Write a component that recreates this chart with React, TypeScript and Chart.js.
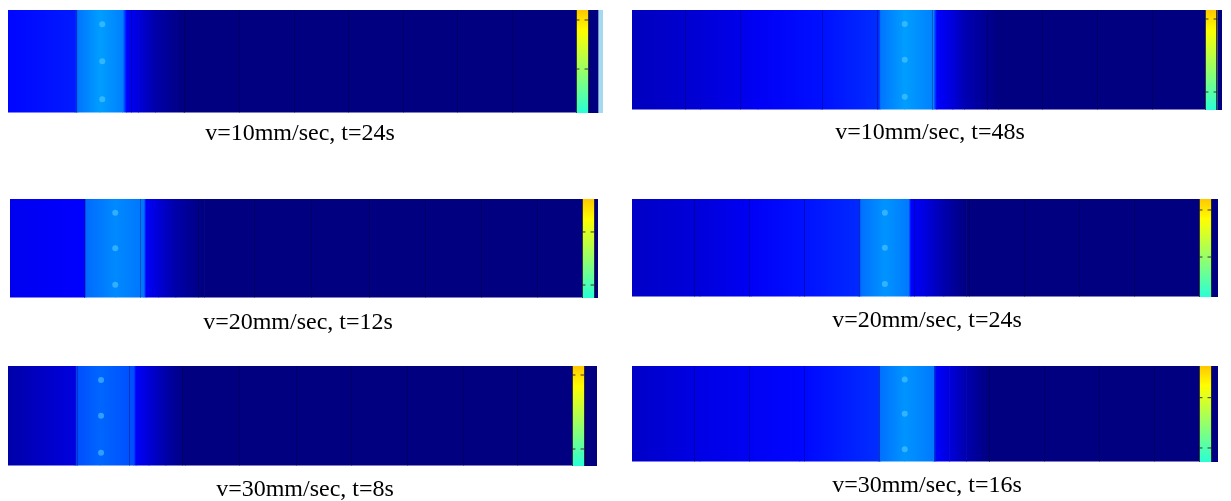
import React, { useEffect, useRef } from "react";
import { Chart, registerables } from "chart.js";
Chart.register(...registerables);

// ---------- data ----------
const panelTitles = [
  "v=10mm/sec, t=24s",
  "v=10mm/sec, t=48s",
  "v=20mm/sec, t=12s",
  "v=20mm/sec, t=24s",
  "v=30mm/sec, t=8s",
  "v=30mm/sec, t=16s",
];

// Position along plate (% of length) and colormap level (jet fraction)
const p1X = [0, 11.8, 12.3, 16.2, 20.2, 20.9, 23, 26, 31, 100];
const p1V = [0.13, 0.15, 0.24, 0.28, 0.25, 0.125, 0.09, 0.04, 0.0, 0.0];
const p2X = [0, 12, 22, 33, 43.1, 43.4, 47.6, 52.6, 53.2, 56, 58, 64, 100];
const p2V = [0.06, 0.085, 0.115, 0.14, 0.17, 0.24, 0.28, 0.25, 0.125, 0.09, 0.05, 0, 0];
const p3X = [0, 13, 13.3, 18.4, 23.4, 23.8, 26, 29, 34, 100];
const p3V = [0.11, 0.125, 0.23, 0.26, 0.24, 0.12, 0.085, 0.04, 0, 0];
const p4X = [0, 12, 21, 29.6, 40, 40.4, 44.6, 48.8, 49.2, 52, 55, 59, 100];
const p4V = [0.07, 0.09, 0.115, 0.14, 0.165, 0.235, 0.27, 0.245, 0.125, 0.09, 0.045, 0, 0];
const p5X = [0, 11.9, 12.2, 16.3, 22.3, 22.7, 25, 28, 31.5, 100];
const p5V = [0.04, 0.095, 0.2, 0.225, 0.2, 0.12, 0.085, 0.04, 0, 0];
const p6X = [0, 12, 29.6, 43.5, 43.8, 48.1, 53.2, 53.6, 56, 59, 63, 100];
const p6V = [0.07, 0.1, 0.13, 0.17, 0.235, 0.27, 0.245, 0.125, 0.09, 0.045, 0, 0];

const mesh1 = [12.1, 21.7, 31.0, 40.7, 50.4, 60.0, 69.7, 79.2, 88.9];
const mesh2 = [9.4, 19.0, 33.3, 42.9, 52.5, 62.1, 71.7, 81.3, 90.9];
const mesh3 = [13.1, 22.9, 32.9, 42.7, 52.7, 62.9, 72.7, 82.4, 92.3];
const mesh4 = [11.1, 20.8, 30.5, 40.2, 49.9, 59.6, 69.3, 79.0, 88.7];
const mesh5 = [12.4, 21.6, 31.0, 41.1, 51.2, 60.9, 70.9, 80.7, 90.4];
const mesh6 = [11.1, 20.8, 30.5, 43.7, 53.4, 63.1, 72.8, 82.5, 92.2];

const sourceX = [16.6, 47.6, 18.4, 44.6, 16.5, 48.1];
const dotLevels = [0.86, 0.5, 0.13];

const cbRange = [0.415, 0.68];
const cbTicks1 = [0.903, 0.427];
const cbTicks2 = [0.91, 0.18];
const cbTicks3 = [0.667, 0.131];
const cbTicks4 = [0.888, 0.408];
const cbTicks5 = [0.91, 0.17];
const cbTicks6 = [0.67, 0.146];

const profilesX = [p1X, p2X, p3X, p4X, p5X, p6X];
const profilesV = [p1V, p2V, p3V, p4V, p5V, p6V];
const meshes = [mesh1, mesh2, mesh3, mesh4, mesh5, mesh6];
const cbTicks = [cbTicks1, cbTicks2, cbTicks3, cbTicks4, cbTicks5, cbTicks6];

// ---------- layout (pixels) ----------
const layouts = [
  { left: 8, top: 10, bottom: 113, heatRight: 576, titleCx: 300, titleCy: 134, cbRight: 588, navyRight: 598, lightRight: 603 },
  { left: 632, top: 10, bottom: 110, heatRight: 1205, titleCx: 930, titleCy: 133, cbRight: 1217, navyRight: 1222, lightRight: 0 },
  { left: 10, top: 199, bottom: 298, heatRight: 582, titleCx: 298, titleCy: 323, cbRight: 594, navyRight: 598, lightRight: 0 },
  { left: 632, top: 199, bottom: 297, heatRight: 1199, titleCx: 927, titleCy: 321, cbRight: 1211, navyRight: 1218, lightRight: 0 },
  { left: 8, top: 366, bottom: 466, heatRight: 572, titleCx: 305, titleCy: 490, cbRight: 584, navyRight: 597, lightRight: 0 },
  { left: 632, top: 366, bottom: 462, heatRight: 1199, titleCx: 927, titleCy: 486, cbRight: 1211, navyRight: 1218, lightRight: 0 },
];

function jet(v: number): string {
  const c = (x: number) => Math.max(0, Math.min(1, x));
  const r = c(1.5 - Math.abs(4 * v - 3));
  const g = c(1.5 - Math.abs(4 * v - 2));
  const b = c(1.5 - Math.abs(4 * v - 1));
  return `rgb(${Math.round(r * 255)},${Math.round(g * 255)},${Math.round(b * 255)})`;
}

const TITLE_SIZE = 24;
const LINE_H = 1.2;

function Panel({ idx }: { idx: number }) {
  const heatRef = useRef<HTMLCanvasElement>(null);
  const cbRef = useRef<HTMLCanvasElement>(null);
  const L = layouts[idx];
  const H = L.bottom - L.top;
  const chartW = Math.round(2 * (L.titleCx - L.left));
  const padTop = L.titleCy - L.bottom - (TITLE_SIZE * LINE_H) / 2;
  const heatH = Math.round(H + padTop + TITLE_SIZE * LINE_H);
  const cbEnd = L.lightRight || L.navyRight;
  const cbW = cbEnd - L.heatRight;

  useEffect(() => {
    const xs = profilesX[idx];
    const vs = profilesV[idx];
    const heatW = L.heatRight - L.left;
    const xMax = (100 * chartW) / heatW;

    const segs: any[] = xs.slice(0, -1).map((x0, i) => {
      const x1 = xs[i + 1];
      const v0 = vs[i];
      const v1 = vs[i + 1];
      return {
        type: "bar",
        data: [[x0, x1]],
        grouped: false,
        barPercentage: 1,
        categoryPercentage: 1,
        borderWidth: 0,
        order: 2,
        backgroundColor: (ctx: any) => {
          const chart = ctx.chart;
          const sx = chart.scales.x;
          if (!chart.chartArea || !sx) return jet((v0 + v1) / 2);
          const a = sx.getPixelForValue(x0);
          const b = sx.getPixelForValue(x1);
          const g = chart.ctx.createLinearGradient(a, 0, b, 0);
          g.addColorStop(0, jet(v0));
          g.addColorStop(1, jet(v1));
          return g;
        },
      };
    });
    segs.push({
      type: "scatter",
      yAxisID: "yd",
      order: 1,
      data: dotLevels.map((d) => ({ x: sourceX[idx], y: d })),
      pointRadius: 3,
      pointBackgroundColor: "rgba(90,205,255,0.55)",
      pointBorderWidth: 0,
    });

    const heat = new Chart(heatRef.current!, {
      type: "bar",
      data: { labels: ["plate"], datasets: segs },
      options: {
        indexAxis: "y",
        responsive: false,
        animation: false,
        events: [],
        layout: { padding: 0, autoPadding: false },
        scales: {
          x: {
            type: "linear",
            min: 0,
            max: xMax,
            offset: false,
            display: true,
            afterBuildTicks: (s: any) => {
              s.ticks = meshes[idx].map((v) => ({ value: v }));
            },
            ticks: { display: false },
            border: { display: false },
            grid: { drawTicks: false, offset: false, color: "rgba(0,0,40,0.3)", lineWidth: 1, z: 1 },
          },
          y: { type: "category", offset: true, display: false },
          yd: { type: "linear", min: 0, max: 1, offset: false, display: false },
        },
        plugins: {
          legend: { display: false },
          tooltip: { enabled: false },
          title: {
            display: true,
            text: panelTitles[idx],
            position: "bottom",
            color: "#000",
            font: { family: "'Liberation Serif', 'Times New Roman', serif", size: TITLE_SIZE, weight: "normal", lineHeight: LINE_H },
            padding: { top: padTop, bottom: 0 },
          },
        },
      } as any,
    });

    const cbXMax = cbW / (L.cbRight - L.heatRight);
    const navyEnd = (L.navyRight - L.heatRight) / (L.cbRight - L.heatRight);
    const cbSets: any[] = [
      {
        type: "bar",
        data: [[0, 1]],
        grouped: false,
        barPercentage: 1,
        categoryPercentage: 1,
        borderWidth: 0,
        order: 2,
        backgroundColor: (ctx: any) => {
          const chart = ctx.chart;
          const area = chart.chartArea;
          if (!area) return jet(cbRange[0]);
          const g = chart.ctx.createLinearGradient(0, area.bottom, 0, area.top);
          for (let k = 0; k <= 10; k++) {
            g.addColorStop(k / 10, jet(cbRange[0] + ((cbRange[1] - cbRange[0]) * k) / 10));
          }
          return g;
        },
      },
      {
        type: "bar",
        data: [[1, navyEnd]],
        grouped: false,
        barPercentage: 1,
        categoryPercentage: 1,
        borderWidth: 0,
        order: 2,
        backgroundColor: jet(0),
      },
    ];
    if (L.lightRight) {
      cbSets.push({
        type: "bar",
        data: [[navyEnd, cbXMax]],
        grouped: false,
        barPercentage: 1,
        categoryPercentage: 1,
        borderWidth: 0,
        order: 2,
        backgroundColor: "#a6d8f0",
      });
    }
    const tk = cbTicks[idx];
    cbSets.push({
      type: "scatter",
      yAxisID: "yt",
      order: 1,
      data: tk.flatMap((t) => [
        { x: 0.12, y: t },
        { x: 0.88, y: t },
      ]),
      pointStyle: "line",
      pointRadius: 2,
      pointBorderColor: "#333",
      pointBorderWidth: 1,
    });

    const cb = new Chart(cbRef.current!, {
      type: "bar",
      data: { labels: ["cb"], datasets: cbSets },
      options: {
        indexAxis: "y",
        responsive: false,
        animation: false,
        events: [],
        layout: { padding: 0, autoPadding: false },
        scales: {
          x: {
            type: "linear",
            min: 0,
            max: cbXMax,
            offset: false,
            display: true,
            afterBuildTicks: (s: any) => {
              s.ticks = [{ value: 0 }, { value: 1 }];
            },
            ticks: { display: false },
            border: { display: false },
            grid: { drawTicks: false, offset: false, color: "rgba(40,40,40,0.9)", lineWidth: 1, z: 1 },
          },
          y: { type: "category", offset: true, display: false },
          yt: { type: "linear", min: 0, max: 1, offset: false, display: false },
        },
        plugins: { legend: { display: false }, tooltip: { enabled: false }, title: { display: false } },
      } as any,
    });

    return () => {
      heat.destroy();
      cb.destroy();
    };
  }, []);

  return (
    <>
      <canvas
        ref={heatRef}
        width={chartW}
        height={heatH}
        style={{ position: "absolute", left: L.left, top: L.top, width: chartW, height: heatH }}
      />
      <canvas
        ref={cbRef}
        width={cbW}
        height={H}
        style={{ position: "absolute", left: L.heatRight, top: L.top, width: cbW, height: H }}
      />
    </>
  );
}

export default function App() {
  return (
    <div style={{ position: "absolute", left: 0, top: 0, width: 1231, height: 501, background: "#fff" }}>
      {[0, 1, 2, 3, 4, 5].map((i) => (
        <Panel key={i} idx={i} />
      ))}
    </div>
  );
}
